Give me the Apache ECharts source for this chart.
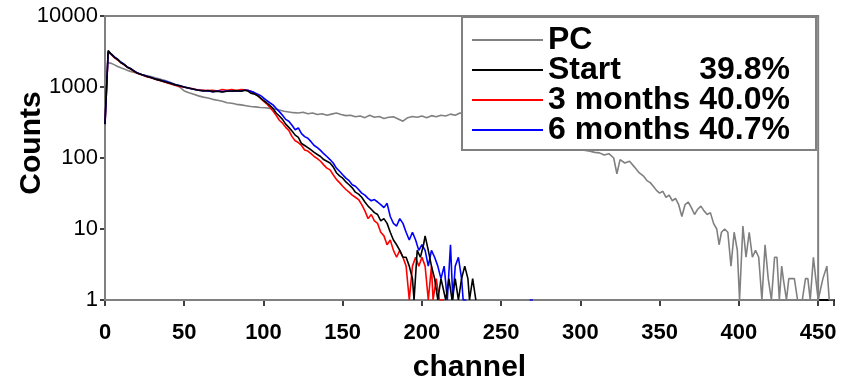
<!DOCTYPE html>
<html>
<head>
<meta charset="utf-8">
<script src="https://cdn.jsdelivr.net/npm/echarts@6/dist/echarts.min.js"></script>
<style>html,body{margin:0;padding:0;background:#fff}#c{width:854px;height:378px}</style>
</head>
<body>
<div id="c"></div>
<script>
// [channel, counts]
const pcData = [[2,2200],[4,2150],[6,2050],[8,1950],[10,1870],[12,1800],[14,1720],[16,1660],[18,1620],[20,1570],[23,1500],[26,1450],[29,1400],[32,1340],[35,1290],[38,1230],[41,1170],[44,1100],[47,1000],[50,880],[53,830],[56,790],[59,750],[62,720],[65,700],[68,670],[71,650],[74,630],[77,600],[80,590],[83,570],[86,560],[89,545],[92,530],[95,525],[98,515],[101,510],[104,500],[107,490],[110,475],[113,455],[116,445],[119,435],[122,430],[125,440],[128,420],[131,430],[134,410],[137,420],[140,400],[143,415],[146,430],[149,410],[152,395],[155,400],[158,380],[161,390],[164,370],[167,400],[170,375],[173,385],[176,360],[179,375],[182,380],[185,355],[188,330],[191,370],[194,385],[197,375],[200,390],[203,370],[206,395],[209,380],[212,400],[215,390],[218,415],[221,400],[224,430],[227,420],[230,420],[240,400],[250,380],[260,330],[270,280],[280,220],[290,170],[300,135],[303,128],[306,125],[309,120],[312,118],[315,110],[318,115],[321,100],[323,60],[325,95],[328,85],[331,90],[334,75],[337,62],[340,55],[342,48],[344,45],[346,40],[348,35],[350,32],[352,34],[354,28],[356,30],[358,25],[360,27],[362,22],[364,15],[366,22],[368,24],[370,20],[372,16],[374,19],[376,21],[378,18],[380,16],[382,17],[384,12],[386,10],[387.5,6],[389,9],[391,10],[393,9],[395,3],[397,9],[399,5],[400.4,1],[402.5,11],[404.5,4],[406.5,9],[408.5,4],[410.5,5],[412.5,4],[414.5,1],[416.5,6],[418.5,2],[420.5,1],[422.5,4],[424,4],[425.5,1],[427,3],[428,2],[430,1],[431.5,2],[433.5,2],[435,2],[437,1],[440,1],[442,2],[443.5,2],[445,1],[447,4],[448.5,2],[450,1],[453,2],[455.5,3],[457,1],[460,1]];

const startData = [[0,300],[2,3250],[4,2900],[6,2600],[8,2450],[10,2200],[12,2080],[14,1900],[16,1820],[18,1700],[20,1580],[23,1500],[26,1420],[29,1360],[32,1290],[35,1240],[38,1180],[41,1130],[44,1080],[47,1040],[50,1000],[53,970],[56,930],[59,900],[62,880],[65,890],[68,860],[71,870],[74,850],[77,870],[80,880],[83,890],[86,870],[88,900],[90,880],[92,820],[94,800],[96,760],[98,700],[100,650],[102,600],[104,550],[106,500],[108,430],[110,390],[112,350],[114,300],[116,270],[118,240],[120,210],[122,195],[124,160],[126,150],[128,140],[130,130],[132,120],[134,112],[136,105],[138,95],[140,90],[142,85],[144,75],[146,62],[148,56],[150,52],[152,46],[154,42],[156,38],[158,33],[160,31],[162,28],[164,24],[166,21],[168,19],[170,17],[172,16],[174,13],[176,14],[178,12],[180,9],[182,7],[184,6],[186,5],[188,4],[190,4],[192,3],[194,2],[195,1],[197,5],[199,4],[201,6],[202,8],[204,5],[206,3],[208,2],[210,1],[212,2],[213,2],[215,1],[217,2],[219,1],[221,2],[223,1],[225,2],[227,3],[229,2],[230,1],[232,2],[234,1]];

const m3Data = [[0,300],[2,3100],[4,2850],[6,2600],[8,2400],[10,2200],[12,2050],[14,1900],[16,1800],[18,1680],[20,1570],[23,1490],[26,1400],[29,1350],[32,1280],[35,1230],[38,1170],[41,1110],[44,1060],[47,1020],[50,990],[53,960],[56,940],[59,910],[62,900],[65,890],[68,900],[71,880],[74,920],[77,900],[80,920],[83,890],[86,920],[88,910],[90,900],[92,870],[94,830],[96,770],[98,700],[100,630],[102,580],[104,520],[106,460],[108,400],[110,340],[112,310],[114,270],[116,245],[118,200],[120,175],[122,165],[124,150],[126,130],[128,125],[130,115],[132,105],[134,98],[136,90],[138,80],[140,72],[142,68],[144,58],[146,50],[148,45],[150,40],[152,36],[154,33],[156,30],[158,28],[160,26],[162,22],[164,18],[166,14],[168,16],[170,13],[172,12],[174,9],[176,8],[178,6],[180,7],[182,5],[184,4],[186,5],[188,4],[190,3],[192,1],[194,3],[196,4],[198,3],[200,4],[202,3],[204,1],[206,3],[207,1],[209,2],[211,1],[214,1]];

const m6Data = [[0,300],[2,3150],[4,2900],[6,2650],[8,2450],[10,2250],[12,2100],[14,1920],[16,1820],[18,1700],[20,1600],[23,1500],[26,1430],[29,1360],[32,1300],[35,1240],[38,1200],[41,1150],[44,1080],[47,1050],[50,1000],[53,960],[56,930],[59,900],[62,890],[65,880],[68,860],[71,880],[74,860],[77,880],[80,870],[83,880],[86,880],[88,900],[90,900],[92,870],[94,840],[96,800],[98,760],[100,700],[102,650],[104,600],[106,560],[108,500],[110,450],[112,400],[114,350],[116,330],[118,290],[120,250],[122,265],[124,220],[126,200],[128,190],[130,170],[132,150],[134,140],[136,128],[138,115],[140,105],[142,95],[144,85],[146,72],[148,65],[150,58],[152,52],[154,48],[156,42],[158,40],[160,36],[162,32],[164,30],[166,27],[168,25],[170,26],[172,24],[174,22],[176,20],[178,23],[180,15],[182,12],[184,11],[186,14],[188,12],[190,9],[192,7],[194,9],[196,7],[198,5],[200,6],[202,5],[204,3],[206,5],[208,4],[210,3],[212,2],[214,3],[216,1],[218,6],[219.5,1],[221,3],[223,4],[225,2],[226,1],[228,1],[229,'-'],[268,1],[270,1]];

const seriesNames = ['PC', 'Start', '3 months', '6 months'];
const efficiencies = ['', '39.8%', '40.0%', '40.7%'];
const xTickLabels = [0, 50, 100, 150, 200, 250, 300, 350, 400, 450];
const yTickLabels = [1, 10, 100, 1000, 10000];

const FONT = '"Liberation Sans", Arial, sans-serif';
const chart = echarts.init(document.getElementById('c'), null, {renderer: 'canvas'});

function lineSeries(name, data, color, z) {
  return {
    name, type: 'line', data, showSymbol: false, symbol: 'none',
    lineStyle: {color, width: 1.6}, itemStyle: {color}, z,
    animation: false, connectNulls: false
  };
}

const pcSeries = lineSeries(seriesNames[0], pcData, '#808080', 1);
pcSeries.markArea = {
  silent: true,
  itemStyle: {color: 'rgba(0,0,0,0)', borderColor: '#808080', borderWidth: 2},
  data: [[{coord: [0, yTickLabels[yTickLabels.length - 1]]}, {coord: [xTickLabels[xTickLabels.length - 1], yTickLabels[0]]}]]
};

chart.setOption({
  animation: false,
  backgroundColor: '#fff',
  grid: {left: 105, right: 20, top: 16, bottom: 78, containLabel: false, outerBoundsMode: 'none'},
  xAxis: {
    type: 'value', min: 0, max: 460, interval: 50,
    name: 'channel', nameLocation: 'middle', nameGap: 53, nameMoveOverlap: false,
    nameTextStyle: {fontFamily: FONT, fontSize: 30, fontWeight: 'bold', color: '#000'},
    axisLine: {show: true, onZero: false, lineStyle: {color: '#000', width: 2}},
    axisTick: {show: true, inside: false, length: 6, lineStyle: {color: '#000', width: 1.5}},
    axisLabel: {
      fontFamily: FONT, fontSize: 22, fontWeight: 'bold', color: '#000', margin: 22,
      formatter: v => xTickLabels.includes(v) ? String(v) : ''
    },
    splitLine: {show: false}
  },
  yAxis: {
    type: 'log', logBase: 10, min: 1, max: 10000,
    name: 'Counts', nameLocation: 'middle', nameGap: 58, nameMoveOverlap: false,
    nameTextStyle: {fontFamily: FONT, fontSize: 30, fontWeight: 'bold', color: '#000', padding: [0, 0, 0, 30]},
    axisLine: {show: true, lineStyle: {color: '#808080', width: 2}},
    axisTick: {show: true, inside: false, length: 5, lineStyle: {color: '#000', width: 1.5}},
    axisLabel: {
      fontFamily: FONT, fontSize: 22, color: '#000', margin: 7,
      formatter: v => { const r = Math.round(v); return yTickLabels.includes(r) ? String(r) : ''; }
    },
    splitLine: {show: false},
    minorTick: {show: false}
  },
  legend: {
    orient: 'vertical', left: 462, top: 17,
    data: seriesNames,
    icon: 'rect', itemWidth: 71, itemHeight: 2, itemGap: -2,
    backgroundColor: '#fff', borderColor: '#808080', borderWidth: 2,
    padding: [7, 26, 4, 10],
    selectedMode: false,
    formatter: name => {
      const i = seriesNames.indexOf(name);
      return efficiencies[i] ? '{n|' + name + '}{p|' + efficiencies[i] + '}' : '{n|' + name + '}';
    },
    textStyle: {
      fontFamily: FONT, fontSize: 32, fontWeight: 'bold', color: '#000', lineHeight: 29.7,
      rich: {
        n: {fontFamily: FONT, fontSize: 32, fontWeight: 'bold', color: '#000', width: 151, lineHeight: 29.7},
        p: {fontFamily: FONT, fontSize: 32, fontWeight: 'bold', color: '#000', width: 91, align: 'right', lineHeight: 29.7}
      }
    }
  },
  series: [
    pcSeries,
    lineSeries(seriesNames[1], startData, '#000000', 4),
    lineSeries(seriesNames[2], m3Data, '#ff0000', 2),
    lineSeries(seriesNames[3], m6Data, '#0000ff', 3)
  ]
});
</script>
</body>
</html>
